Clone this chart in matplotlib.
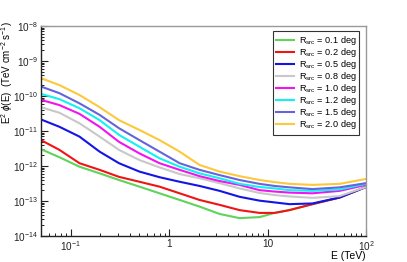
import numpy as np
import matplotlib
matplotlib.use("Agg")
import matplotlib.pyplot as plt
from matplotlib.ticker import LogLocator, NullFormatter

plt.rcParams['font.family'] = ['Liberation Sans', 'DejaVu Sans']
plt.rcParams['mathtext.fontset'] = 'custom'
plt.rcParams['mathtext.rm'] = 'Liberation Sans'
plt.rcParams['mathtext.it'] = 'Liberation Sans:italic'

# energy grid (TeV)
energy = [0.05, 0.077, 0.123, 0.197, 0.31, 0.50, 0.80, 1.28, 2.04, 3.26, 5.2, 8.3, 11.8, 16.7, 28.6, 54, 100]

# log10 of E^2 phi(E) for each source radius
r01 = [-11.52, -11.75, -12.02, -12.21, -12.40, -12.59, -12.78, -12.97, -13.16, -13.37, -13.49, -13.46, -13.34, -13.26, -13.09, -12.90, -12.60]
r02 = [-11.26, -11.54, -11.92, -12.11, -12.31, -12.45, -12.59, -12.78, -12.97, -13.11, -13.26, -13.34, -13.34, -13.26, -13.09, -12.90, -12.60]
r05 = [-10.67, -10.88, -11.16, -11.59, -11.92, -12.16, -12.32, -12.45, -12.57, -12.71, -12.88, -12.99, -13.04, -13.09, -13.07, -12.90, -12.60]
r08 = [-10.32, -10.48, -10.78, -11.16, -11.54, -11.83, -12.04, -12.23, -12.35, -12.49, -12.64, -12.77, -12.83, -12.87, -12.91, -12.86, -12.60]
r10 = [-10.11, -10.26, -10.51, -10.88, -11.31, -11.64, -11.92, -12.11, -12.29, -12.43, -12.54, -12.69, -12.73, -12.76, -12.78, -12.71, -12.54]
r12 = [-9.94, -10.09, -10.35, -10.69, -11.11, -11.45, -11.78, -12.02, -12.21, -12.35, -12.51, -12.60, -12.64, -12.69, -12.71, -12.67, -12.51]
r15 = [-9.73, -9.92, -10.21, -10.54, -10.92, -11.26, -11.59, -11.92, -12.11, -12.26, -12.40, -12.51, -12.57, -12.61, -12.66, -12.61, -12.49]
r20 = [-9.49, -9.69, -9.97, -10.32, -10.69, -10.97, -11.26, -11.59, -11.97, -12.16, -12.29, -12.40, -12.46, -12.51, -12.54, -12.51, -12.37]

radii = ['0.1', '0.2', '0.5', '0.8', '1.0', '1.2', '1.5', '2.0']
series = [r01, r02, r05, r08, r10, r12, r15, r20]
colors = ['#5fd35a', '#f01414', '#1414e6', '#c8c8c8', '#f014f0', '#14f0f0', '#6464dc', '#fcc83c']

fig = plt.figure(figsize=(4.07, 2.62), dpi=100)
ax = fig.add_axes([0.1007, 0.0992, 0.7985, 0.8016])

E = np.array(energy)
for r, s, c in zip(radii, series, colors):
    ax.plot(E, 10**np.array(s), color=c, lw=1.5, label=r'R$_{\rm src}$ = ' + r + ' deg')

ax.set_xscale('log')
ax.set_yscale('log')
ax.set_xlim(0.05, 100)
ax.set_ylim(1e-14, 1e-8)

ax.set_xticks([0.1, 1, 10, 100])
ax.set_xticklabels([r'10$^{-1}$', '1', '10', r'10$^{2}$'])
ax.xaxis.set_minor_locator(LogLocator(base=10, subs=np.arange(2, 10), numticks=20))
ax.xaxis.set_minor_formatter(NullFormatter())
ax.set_yticks([1e-14, 1e-13, 1e-12, 1e-11, 1e-10, 1e-9, 1e-8])
ax.set_yticklabels([r'10$^{-%d}$' % k for k in range(14, 7, -1)])
ax.yaxis.set_minor_locator(LogLocator(base=10, subs=np.arange(2, 10), numticks=20))
ax.yaxis.set_minor_formatter(NullFormatter())

ax.tick_params(which='both', direction='in', top=False, right=False, labelsize=7.2, colors='#222222')
ax.tick_params(which='major', length=5, width=0.8)
ax.tick_params(which='minor', length=2.5, width=0.7)
ax.tick_params(axis='x', pad=2)
ax.tick_params(axis='y', pad=2)

ax.spines['left'].set_color('#222222')
ax.spines['bottom'].set_color('#222222')
ax.spines['top'].set_color('#999999')
ax.spines['right'].set_color('#999999')
for sp in ax.spines.values():
    sp.set_linewidth(1.0)

ax.set_xlabel('E (TeV)', fontsize=7.5, ha='right')
ax.xaxis.set_label_coords(1.0, -0.07)
ax.set_ylabel(r'E$^{2}$ $\phi$(E)  (TeV cm$^{-2}$ s$^{-1}$)', fontsize=7, ha='right')
ax.yaxis.set_label_coords(-0.08, 1.02)

leg = ax.legend(loc='upper right', bbox_to_anchor=(0.98, 0.978), fontsize=6.6, frameon=True,
                fancybox=False, edgecolor='black', handlelength=2.0, handletextpad=0.45,
                labelspacing=-0.1, borderpad=0.35, borderaxespad=0)
leg.get_frame().set_linewidth(0.8)

plt.savefig('out.png', dpi=100)
